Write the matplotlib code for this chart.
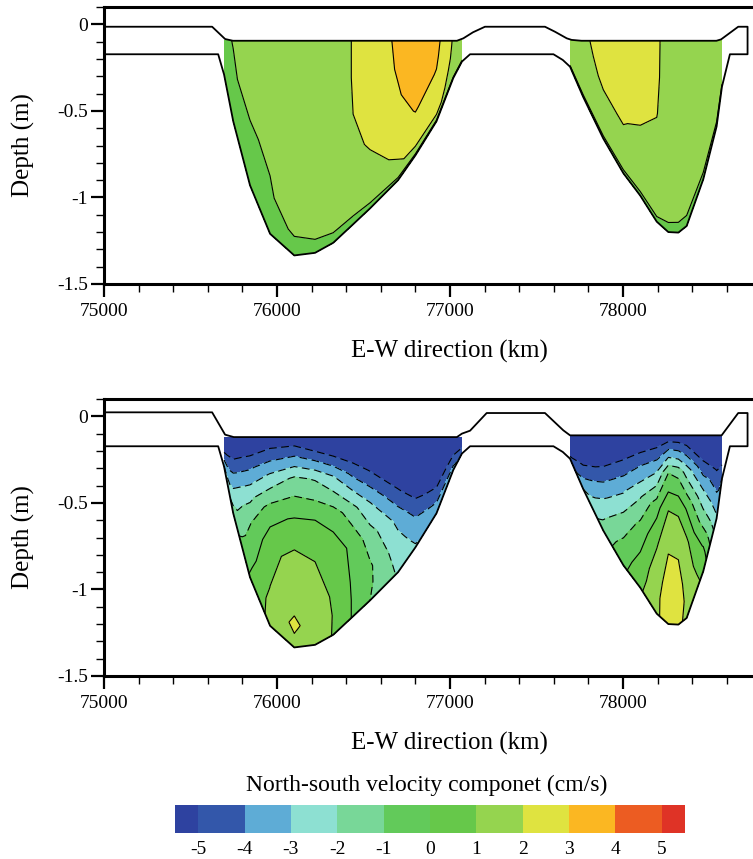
import numpy as np
import matplotlib
matplotlib.use("Agg")
import matplotlib.pyplot as plt
from matplotlib.ticker import MultipleLocator

plt.rcParams['font.family'] = ['Liberation Serif', 'DejaVu Serif']
plt.rcParams['axes.unicode_minus'] = False

# contour levels / colours (cm/s)
levels = [-5, -4, -3, -2, -1, 0, 1, 2, 3, 4, 5]
cbar_labels = ['-5', '-4', '-3', '-2', '-1', '0', '1', '2', '3', '4', '5']
fill_colors = ['#2e42a0', '#3357aa', '#5eacd6', '#8de0d2', '#78d798', '#62ca5a',
               '#66c84a', '#95d44f', '#dfe340', '#fbb722', '#ec5c22', '#df3326']

xticks = [75000, 76000, 77000, 78000]
yticks = [-1.5, -1, -0.5, 0]
ytick_labels = ['-1.5', '-1', '-0.5', '0']

# bed of the cross-section (m)
bed_x = [75000, 75660, 75694, 75747, 75844, 75960, 76100, 76220, 76325, 76440, 76538,
         76700, 76800, 76922, 77019, 77069, 77116, 77598, 77652, 77694, 77770, 77886,
         78002, 78100, 78195, 78262, 78320, 78368, 78464, 78541, 78572, 78618, 78720]
bed_z = [-0.173, -0.173, -0.29, -0.56, -0.93, -1.21, -1.335, -1.32, -1.262, -1.155, -1.063,
         -0.90, -0.757, -0.56, -0.31, -0.215, -0.173, -0.173, -0.206, -0.245, -0.42, -0.66,
         -0.86, -0.99, -1.14, -1.20, -1.203, -1.165, -0.895, -0.59, -0.36, -0.173, -0.173]

# upper boundary (water surface / banks)
top_surf_x = [75000, 75625, 75700, 75745, 77040, 77077, 77133, 77202, 77549, 77607, 77675,
              77703, 77760, 78540, 78567, 78666, 78720]
top_surf_z = [-0.014, -0.014, -0.085, -0.095, -0.095, -0.081, -0.046, -0.014, -0.014, -0.043,
              -0.081, -0.09, -0.095, -0.095, -0.087, -0.014, -0.014]
bot_surf_x = [75000, 75625, 75700, 75750, 77040, 77069, 77116, 77212, 77549, 77655, 77694,
              78570, 78666, 78720]
bot_surf_z = [0.023, 0.023, -0.106, -0.12, -0.12, -0.10, -0.083, 0.019, 0.019, -0.081, -0.11,
              -0.11, 0.019, 0.019]

# sampling columns in each channel, values from surface (s=0) to bed (s=1)
sigma = [0, 0.2, 0.4, 0.6, 0.8, 0.9, 1.0]
ch1_x = [75694, 75747, 75844, 75960, 76100, 76220, 76325, 76440, 76538, 76700, 76800, 76922, 77019, 77069]
ch1_bed = [-0.29, -0.56, -0.93, -1.21, -1.335, -1.32, -1.262, -1.155, -1.063, -0.90, -0.757, -0.56, -0.31, -0.215]
ch2_x = [77694, 77770, 77886, 78002, 78100, 78195, 78262, 78320, 78368, 78464, 78541, 78572]
ch2_bed = [-0.245, -0.42, -0.66, -0.86, -0.99, -1.14, -1.20, -1.203, -1.165, -0.895, -0.59, -0.36]

top_ch1 = [
    [0.9, 0.9, 0.88, 0.85, 0.8, 0.75, 0.6],
    [1.02, 0.98, 0.95, 0.9, 0.85, 0.8, 0.6],
    [1.3, 1.25, 1.15, 0.95, 0.85, 0.8, 0.6],
    [1.5, 1.45, 1.3, 1.07, 0.93, 0.85, 0.6],
    [1.7, 1.7, 1.65, 1.55, 1.35, 1.05, 0.6],
    [1.8, 1.8, 1.75, 1.65, 1.45, 1.2, 0.65],
    [1.9, 1.9, 1.85, 1.75, 1.5, 1.3, 0.7],
    [2.01, 2.01, 2.0, 1.8, 1.5, 1.3, 0.75],
    [2.3, 2.3, 2.25, 2.1, 1.7, 1.4, 0.8],
    [3.2, 3.1, 2.9, 2.6, 2.15, 1.85, 0.8],
    [3.8, 3.7, 3.45, 3.05, 2.6, 2.3, 0.8],
    [3.3, 3.15, 2.95, 2.7, 2.4, 2.2, 0.8],
    [1.9, 1.85, 1.8, 1.7, 1.6, 1.5, 0.8],
    [1.5, 1.5, 1.45, 1.4, 1.3, 1.2, 0.8],
]
top_ch2 = [
    [1.5, 1.5, 1.45, 1.4, 1.3, 1.2, 0.8],
    [1.85, 1.75, 1.7, 1.6, 1.5, 1.3, 0.8],
    [2.3, 2.25, 2.1, 1.9, 1.7, 1.5, 0.8],
    [2.55, 2.5, 2.35, 2.05, 1.75, 1.55, 0.8],
    [2.6, 2.55, 2.4, 1.85, 1.7, 1.55, 0.8],
    [2.1, 2.08, 2.02, 1.85, 1.7, 1.5, 0.8],
    [1.75, 1.75, 1.7, 1.65, 1.55, 1.4, 0.6],
    [1.6, 1.6, 1.6, 1.55, 1.5, 1.35, 0.6],
    [1.55, 1.55, 1.55, 1.5, 1.45, 1.3, 0.6],
    [1.5, 1.5, 1.5, 1.45, 1.4, 1.3, 0.7],
    [1.5, 1.5, 1.45, 1.4, 1.35, 1.25, 0.7],
    [1.5, 1.5, 1.45, 1.4, 1.3, 1.2, 0.8],
]
bot_ch1 = [
    [-6.3, -5.9, -5.3, -4.8, -3.9, -3.4, -2.9],
    [-6.2, -5.5, -4.4, -3.3, -2.5, -2.0, -1.6],
    [-6.4, -4.3, -2.45, -1.1, -0.45, -0.15, 0.1],
    [-5.9, -2.9, -0.4, 0.65, 1.02, 1.3, 1.3],
    [-5.85, -1.78, 0.15, 1.4, 1.8, 2.2, 1.6],
    [-6.5, -2.1, 0.0, 1.0, 1.4, 1.5, 1.3],
    [-6.9, -2.95, -0.4, 0.6, 0.9, 0.97, 0.97],
    [-6.85, -4.3, -1.7, -0.29, -0.15, -0.1, -0.1],
    [-6.5, -5.1, -3.0, -1.55, -0.84, -0.85, -1.0],
    [-6.5, -6.0, -4.91, -3.33, -2.6, -2.3, -2.1],
    [-6.5, -6.2, -5.8, -4.78, -3.55, -3.2, -2.9],
    [-6.5, -6.2, -5.9, -5.3, -4.3, -3.8, -3.4],
    [-6.3, -6.0, -5.6, -4.8, -4.2, -3.9, -3.6],
    [-6.0, -5.8, -5.5, -5.1, -4.7, -4.5, -4.2],
]
bot_ch2 = [
    [-6.3, -6.1, -5.8, -5.5, -5.2, -5.0, -4.7],
    [-6.6, -6.2, -5.7, -4.8, -4.0, -3.5, -3.0],
    [-6.8, -5.8, -4.54, -3.35, -2.3, -1.95, -1.6],
    [-6.5, -4.9, -3.3, -1.95, -0.95, -0.5, -0.25],
    [-6.3, -4.0, -2.1, -0.7, 0.15, 0.5, 0.85],
    [-6.0, -3.1, -0.4, 0.85, 1.7, 1.85, 1.9],
    [-5.8, -1.0, 1.0, 1.95, 2.3, 2.4, 2.3],
    [-5.85, -1.3, 0.85, 1.9, 2.25, 2.35, 2.2],
    [-6.0, -2.4, -0.1, 1.3, 1.75, 1.85, 1.8],
    [-6.6, -4.9, -3.0, -1.6, -0.1, 0.45, 0.8],
    [-6.5, -6.0, -5.1, -4.3, -3.6, -3.2, -2.8],
    [-6.3, -6.0, -5.6, -5.2, -4.7, -4.4, -4.0],
]


def draw_channel(ax, xs, bed, surf, cols):
    X = np.tile(xs, (len(sigma), 1))
    Z = surf + np.outer(sigma, np.array(bed) - surf)
    U = np.array(cols).T
    cs = ax.contourf(X, Z, U, levels=levels, colors=fill_colors, extend='both', zorder=1)
    neg = [v for v in levels if v < 0 and U.min() < v < U.max()]
    pos = [v for v in levels if v >= 0 and U.min() < v < U.max()]
    if neg:
        ax.contour(X, Z, U, levels=neg, colors='k', linewidths=0.8,
                   linestyles=[(0, (7, 4))], zorder=2)
    if pos:
        ax.contour(X, Z, U, levels=pos, colors='k', linewidths=0.8,
                   linestyles='solid', zorder=2)
    return cs


def style_axes(ax):
    ax.set_xlim(75000, 78800)
    ax.set_ylim(-1.5, 0.1)
    ax.set_xticks(xticks)
    ax.set_yticks(yticks, labels=ytick_labels)
    ax.xaxis.set_minor_locator(MultipleLocator(200))
    ax.yaxis.set_minor_locator(MultipleLocator(0.1))
    for sp in ax.spines.values():
        sp.set_linewidth(2.2)
    ax.tick_params(which='major', direction='out', length=9.5, width=1.6, labelsize=14)
    ax.tick_params(which='minor', direction='out', length=5.5, width=1.0)
    ax.tick_params(axis='x', which='major', pad=4)
    ax.tick_params(axis='y', which='major', pad=2)
    ax.set_xlabel('E-W direction (km)', fontsize=18)
    ax.set_ylabel('Depth (m)', fontsize=18)
    ax.xaxis.set_label_coords(0.5256, -0.245)
    ax.xaxis.label.set_va('center')
    ax.yaxis.set_label_coords(-0.122, 0.5)
    ax.yaxis.label.set_va('center')


W, H = 753, 859
fig = plt.figure(figsize=(W / 100, H / 100), dpi=100)
ax1 = fig.add_axes([104 / W, 1 - 284 / H, 657.4 / W, 277 / H])
ax2 = fig.add_axes([104 / W, 1 - 676 / H, 657.4 / W, 277 / H])

draw_channel(ax1, ch1_x, ch1_bed, -0.095, top_ch1)
draw_channel(ax1, ch2_x, ch2_bed, -0.095, top_ch2)
cs = draw_channel(ax2, ch1_x, ch1_bed, -0.12, bot_ch1)
draw_channel(ax2, ch2_x, ch2_bed, -0.11, bot_ch2)

for ax, sx, sz in [(ax1, top_surf_x, top_surf_z), (ax2, bot_surf_x, bot_surf_z)]:
    ax.plot(np.r_[sx, bed_x[::-1]], np.r_[sz, bed_z[::-1]], color='k', lw=1.3, zorder=3)
    style_axes(ax)

cax = fig.add_axes([175 / W, 1 - 833 / H, 510 / W, 28 / H])
cb = fig.colorbar(cs, cax=cax, orientation='horizontal', extendrect=True,
                  extendfrac=0.05, ticks=levels)
cb.set_ticklabels(cbar_labels)
cb.outline.set_visible(False)
cax.tick_params(length=0, labelsize=14, pad=6)
fig.text(427 / W, 1 - 785 / H, 'North-south velocity componet (cm/s)', fontsize=17,
         ha='center', va='center')

fig.savefig('out.png', dpi=100)
